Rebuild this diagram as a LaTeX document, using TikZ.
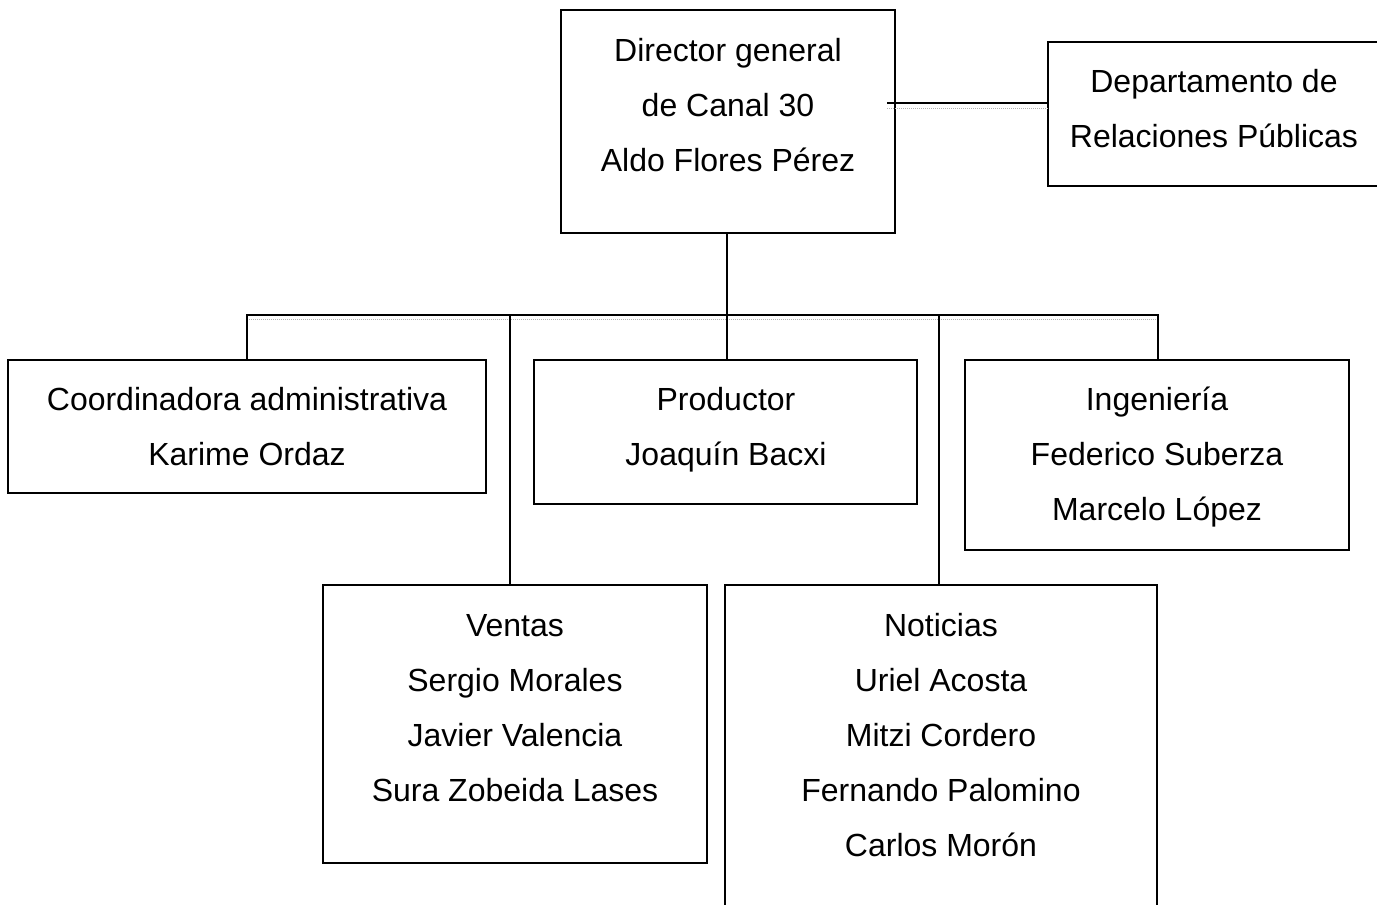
\documentclass[tikz,border=0pt]{standalone}
\usepackage{fontspec}
\setmainfont{Liberation Sans}
\begin{document}
\begin{tikzpicture}[x=1pt,y=-1pt,
  box/.style={draw=black,line width=2pt,inner sep=0pt,fill=none},
  txt/.style={align=center,inner sep=0pt,font=\fontsize{32}{55}\selectfont},
  conn/.style={line width=2pt,black},
  shade/.style={line width=1pt,gray!60,densely dotted}]
\useasboundingbox (0,0) rectangle (1377,905);
\clip (0,0) rectangle (1377,905);
% boxes
\node[box,minimum width=334pt,minimum height=223pt] (dir) at (728,121.5) {};
\node[box,minimum width=332pt,minimum height=144pt] (dep) at (1214,114) {};
\node[box,minimum width=478pt,minimum height=133pt] (coo) at (247,426.5) {};
\node[box,minimum width=383pt,minimum height=144pt] (pro) at (725.5,432) {};
\node[box,minimum width=384pt,minimum height=190pt] (ing) at (1157,455) {};
\node[box,minimum width=384pt,minimum height=278pt] (ven) at (515,724) {};
\node[box,minimum width=432pt,minimum height=360pt] (not) at (941,765) {};
% texts
\node[txt] (dirt) at (728,105) {Director general\\de Canal 30\\Aldo Flores Pérez};
\node[txt] (dept) at (1214,109) {Departamento de\\Relaciones Públicas};
\node[txt] (coot) at (247,427) {Coordinadora administrativa\\Karime Ordaz};
\node[txt] (prot) at (726,430) {Productor\\Joaquín Bacxi};
\node[txt] (ingt) at (1157,457) {Ingeniería\\Federico Suberza\\Marcelo López};
\node[txt] (vent) at (515,708) {Ventas\\Sergio Morales\\Javier Valencia\\Sura Zobeida Lases};
\node[txt] (nott) at (941,735) {Noticias\\Uriel Acosta\\Mitzi Cordero\\Fernando Palomino\\Carlos Morón};
% connector coordinates
\coordinate (dl) at (887,103);
\coordinate (busl) at (247,315);
\coordinate (busc) at (727,315);
\coordinate (busr) at (1158,315);
\coordinate (bv) at (510,315);
\coordinate (bn) at (939,315);
% shadows
\draw[shade] (887,108) -- (1048,108);
\draw[shade] (247,319) -- (1158,319);
% connectors
\draw[conn] (dl) -- (dl -| dep.west);
\draw[conn] (busc |- dir.south) -- (busc);
\draw[conn] (busl |- coo.north) -- (busl) -- (busr) -- (busr |- ing.north);
\draw[conn] (busc) -- (busc |- pro.north);
\draw[conn] (bv) -- (bv |- ven.north);
\draw[conn] (bn) -- (bn |- not.north);
\end{tikzpicture}
\end{document}
